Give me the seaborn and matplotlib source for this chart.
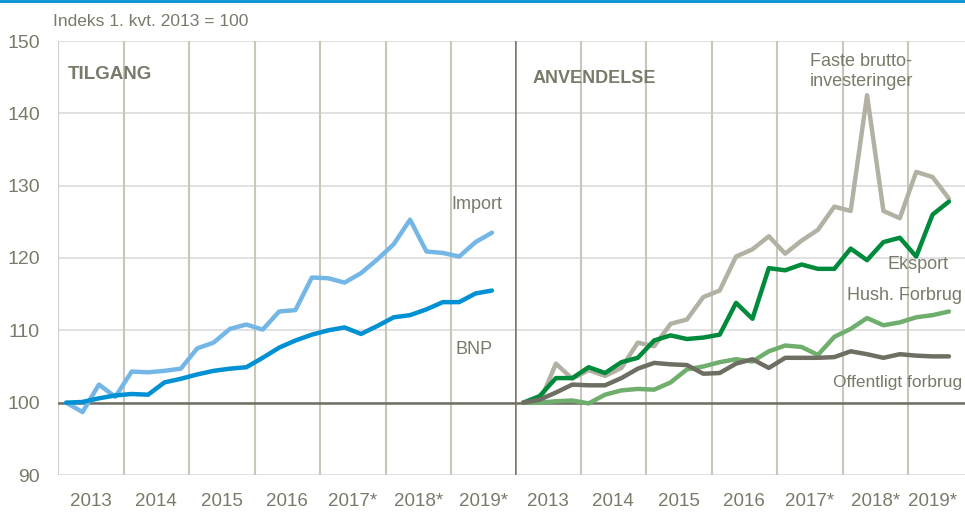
import numpy as np
import pandas as pd
import matplotlib.pyplot as plt
from matplotlib.lines import Line2D
import seaborn as sns

# kvartaler 2013K1 - 2019K3
quarters = np.arange(27)
years = ['2013', '2014', '2015', '2016', '2017*', '2018*', '2019*']

# TILGANG
bnp = [100.0, 100.1, 100.6, 101.0, 101.2, 101.1, 102.8, 103.3, 103.9, 104.4,
       104.7, 104.9, 106.2, 107.6, 108.6, 109.4, 110.0, 110.4, 109.5, 110.6,
       111.8, 112.1, 112.9, 113.9, 113.9, 115.1, 115.5]
imp = [100.0, 98.7, 102.5, 100.8, 104.3, 104.2, 104.4, 104.7, 107.5, 108.3,
       110.2, 110.8, 110.1, 112.6, 112.8, 117.3, 117.2, 116.6, 117.9, 119.8,
       121.9, 125.3, 120.9, 120.7, 120.2, 122.2, 123.5]

# ANVENDELSE
invest = [100.0, 100.0, 105.4, 103.3, 104.5, 103.7, 104.8, 108.3, 107.8, 110.9,
          111.5, 114.6, 115.5, 120.2, 121.2, 123.0, 120.6, 122.4, 123.9, 127.1,
          126.5, 142.5, 126.5, 125.5, 131.9, 131.2, 128.2]
eksport = [100.0, 100.9, 103.4, 103.4, 104.9, 104.1, 105.6, 106.2, 108.6, 109.3,
           108.8, 109.0, 109.4, 113.8, 111.6, 118.6, 118.3, 119.1, 118.5, 118.5,
           121.3, 119.7, 122.2, 122.8, 120.2, 126.0, 127.8]
hush = [100.0, 100.0, 100.2, 100.3, 99.9, 101.1, 101.7, 101.9, 101.8, 102.8,
        104.6, 105.0, 105.6, 106.0, 105.7, 107.1, 107.9, 107.7, 106.6, 109.1,
        110.2, 111.7, 110.7, 111.1, 111.8, 112.1, 112.6]
offentlig = [100.0, 100.4, 101.4, 102.5, 102.4, 102.4, 103.4, 104.7, 105.5, 105.3,
             105.2, 104.0, 104.1, 105.4, 106.0, 104.8, 106.2, 106.2, 106.2, 106.3,
             107.1, 106.7, 106.2, 106.7, 106.5, 106.4, 106.4]

txt = '#7a7a6a'
sns.set_style('white')
plt.rcParams['font.family'] = ['Liberation Sans', 'DejaVu Sans']

x = quarters / 4 + 0.125
left_df = pd.DataFrame({'x': np.tile(x, 2), 'y': imp + bnp,
                        'serie': ['Import'] * 27 + ['BNP'] * 27})
right_df = pd.DataFrame({'x': np.tile(x, 4), 'y': invest + eksport + hush + offentlig,
                         'serie': ['Invest'] * 27 + ['Eksport'] * 27 + ['Hush'] * 27 + ['Off'] * 27})

fig = plt.figure(figsize=(9.65, 5.13), dpi=100)
ax1 = fig.add_axes([58 / 965, 1 - 475 / 513, 457 / 965, 434 / 513])
ax2 = fig.add_axes([515 / 965, 1 - 475 / 513, 450 / 965, 434 / 513], sharey=ax1)

for ax, xmax in [(ax1, 457 / 65.5), (ax2, 450 / 65.5)]:
    ax.set_xlim(0, xmax)
    ax.set_ylim(90, 150)
    for v in range(90, 151, 10):
        ax.axhline(v, color='#dcdcdc', lw=1.2, zorder=0)
    for v in range(1, 7):
        ax.axvline(v, color='#c9c7ba', lw=1.5, zorder=0)
    ax.axhline(100, color='#6e6e62', lw=1.8, zorder=1)
    for s in ax.spines.values():
        s.set_visible(False)
    ax.tick_params(axis='x', length=0, pad=13, labelsize=13.5, labelcolor=txt)

ax1.set_xticks(np.arange(7) + 0.5)
ax1.set_xticklabels(years)
ax2.set_xticks([0.5, 1.5, 2.5, 3.5, 4.5, 5.5, 6.38])
ax2.set_xticklabels(years)

ax1.axvline(0, color='#cfcfc6', lw=1.5, zorder=0)
ax2.axvline(0, color='#7a7a6a', lw=1.8, zorder=2)

sns.lineplot(data=left_df, x='x', y='y', hue='serie', ax=ax1, lw=3.2,
             palette={'Import': '#74b7e6', 'BNP': '#0090d4'}, legend=False)
sns.lineplot(data=right_df, x='x', y='y', hue='serie', ax=ax2, lw=3.2,
             palette={'Invest': '#b3b1a3', 'Eksport': '#008a3c',
                      'Hush': '#6fae6d', 'Off': '#6e6e62'}, legend=False)
for ax in (ax1, ax2):
    ax.set_xlabel('')
    ax.set_ylabel('')

ax1.set_yticks(range(90, 151, 10))
ax1.tick_params(axis='y', length=0, pad=13, labelsize=14, labelcolor=txt)
ax2.tick_params(axis='y', left=False, labelleft=False)

ax1.text(0.15, 145.3, 'TILGANG', fontsize=13.5, fontweight='bold', color=txt, va='center')
ax2.text(0.27, 144.8, 'ANVENDELSE', fontsize=13, fontweight='bold', color=txt, va='center')

ax1.text(6.78, 127.4, 'Import', fontsize=13, color=txt, ha='right', va='center')
ax1.text(6.63, 107.3, 'BNP', fontsize=13, color=txt, ha='right', va='center')
ax2.text(4.5, 145.8, 'Faste brutto-\ninvesteringer', fontsize=13, color=txt,
         ha='left', va='center', linespacing=1.2)
ax2.text(6.62, 119.1, 'Eksport', fontsize=13, color=txt, ha='right', va='center')
ax2.text(6.83, 114.8, 'Hush. Forbrug', fontsize=13, color=txt, ha='right', va='center')
ax2.text(6.83, 102.8, 'Offentligt forbrug', fontsize=12.5, color=txt, ha='right', va='center')

fig.text(53 / 965, 1 - 22 / 513, 'Indeks 1. kvt. 2013 = 100', fontsize=12.5,
         color=txt, ha='left', va='center')
fig.add_artist(Line2D([0, 1], [0.998, 0.998], color='#0090d4', lw=2))

fig.savefig('out.png', dpi=100)
